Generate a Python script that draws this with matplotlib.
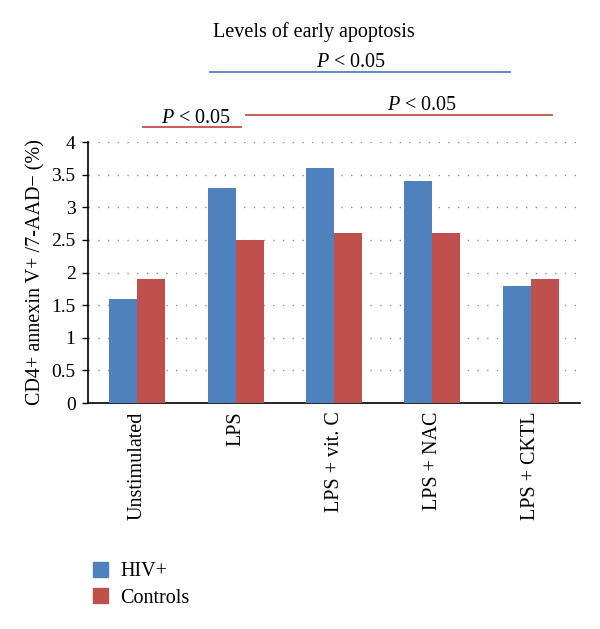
import numpy as np
import matplotlib.pyplot as plt
from matplotlib.patches import Patch

plt.rcParams['font.family'] = ['Liberation Serif', 'DejaVu Serif']
plt.rcParams['mathtext.fontset'] = 'custom'
plt.rcParams['mathtext.rm'] = 'Liberation Serif'
plt.rcParams['mathtext.it'] = 'Liberation Serif:italic'

categories = ['Unstimulated', 'LPS', 'LPS + vit. C', 'LPS + NAC', 'LPS + CKTL']
hiv = [1.6, 3.3, 3.6, 3.4, 1.8]
controls = [1.9, 2.5, 2.6, 2.6, 1.9]
yticks = [0, 0.5, 1, 1.5, 2, 2.5, 3, 3.5, 4]
ytick_labels = ['0', '0.5', '1', '1.5', '2', '2.5', '3', '3.5', '4']

blue = '#4F81BD'
red = '#C0504D'
fs = 14.5

fig = plt.figure(figsize=(6, 6.29), dpi=100)
ax = fig.add_axes([0.1467, 0.3593, 0.82, 0.4149])

x = np.arange(len(categories))
w = 0.285
ax.bar(x - w / 2, hiv, w, color=blue, zorder=3)
ax.bar(x + w / 2, controls, w, color=red, zorder=3)

ax.set_xlim(-0.5, len(categories) - 0.5)
ax.set_ylim(0, 4)
ax.set_yticks(yticks)
ax.set_yticklabels(ytick_labels, fontsize=14)
for yv in yticks[1:]:
    ax.axhline(yv, color='#8c8c8c', lw=1, ls=(0, (1, 6)), zorder=1)

ax.set_xticks(x)
ax.set_xticklabels(categories, rotation=90, fontsize=fs, va='top')
ax.tick_params(axis='x', length=0, pad=6)
ax.tick_params(axis='y', length=4, width=1, direction='out', pad=5)
for s in ['top', 'right']:
    ax.spines[s].set_visible(False)
ax.spines['left'].set_linewidth(1.2)
ax.spines['bottom'].set_linewidth(1.2)

ax.set_ylabel('CD4+ annexin V+ /7-AAD\u2212 (%)', fontsize=fs, labelpad=4)

# significance bars
ax.text(1.8, 5.68, 'Levels of early apoptosis', ha='center', va='center', fontsize=fs)
ax.plot([0.74, 3.79], [5.07, 5.07], color=blue, lw=1.3, clip_on=False)
ax.text(2.17, 5.22, '$P$ < 0.05', ha='center', va='center', fontsize=fs)
ax.plot([0.06, 1.055], [4.23, 4.23], color=red, lw=1.3, clip_on=False)
ax.text(0.6, 4.36, '$P$ < 0.05', ha='center', va='center', fontsize=fs)
ax.plot([1.106, 4.215], [4.41, 4.41], color=red, lw=1.3, clip_on=False)
ax.text(2.9, 4.56, '$P$ < 0.05', ha='center', va='center', fontsize=fs)

handles = [Patch(color=blue, label='HIV+'), Patch(color=red, label='Controls')]
fig.legend(handles=handles, loc='lower left', bbox_to_anchor=(0.125, 0.005),
           frameon=False, fontsize=fs, handlelength=0.75, handleheight=0.75,
           labelspacing=0.35, handletextpad=0.6)

fig.savefig('out.png', dpi=100)
